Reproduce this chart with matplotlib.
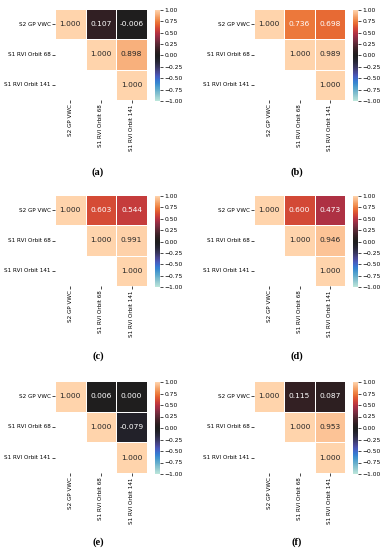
"""Correlation heatmaps of VWC vs. S1 RVI, six panels."""
import matplotlib
matplotlib.use("Agg")
import matplotlib.pyplot as plt
import numpy as np
import seaborn as sns

names = ["S2 GP VWC", "S1 RVI Orbit 68", "S1 RVI Orbit 141"]
panel_labels = ["(a)", "(b)", "(c)", "(d)", "(e)", "(f)"]

# upper-triangle correlations: (VWC-68, VWC-141, 68-141)
corr_a = [0.107, -0.006, 0.898]
corr_b = [0.736, 0.698, 0.989]
corr_c = [0.603, 0.544, 0.991]
corr_d = [0.600, 0.473, 0.946]
corr_e = [0.006, 0.000, -0.079]
corr_f = [0.115, 0.087, 0.953]
panels = [corr_a, corr_b, corr_c, corr_d, corr_e, corr_f]

W, H = 383, 550
fig = plt.figure(figsize=(W / 100, H / 100), dpi=100)


def px(l, t, r, b):
    return [l / W, 1 - b / H, (r - l) / W, (b - t) / H]


# heatmap boxes in pixels (left, top, right, bottom)
boxes = [(55, 9, 147, 100), (254, 9, 345, 100),
         (55, 195, 147, 286), (254, 195, 345, 286),
         (55, 381, 147, 473), (254, 381, 345, 473)]
label_y = [172, 172, 356, 356, 542, 542]

for i, (vals, box) in enumerate(zip(panels, boxes)):
    M = np.eye(3)
    M[0, 1], M[0, 2], M[1, 2] = vals
    mask = np.tril(np.ones_like(M, dtype=bool), k=-1)
    l, t, r, b = box
    ax = fig.add_axes(px(l, t, r, b))
    cax = fig.add_axes(px(r + 8, t + 1, r + 13, b + 1))
    sns.heatmap(M, mask=mask, cmap="icefire", vmin=-1, vmax=1, annot=True,
                fmt=".3f", linewidths=0.6, linecolor="white", ax=ax,
                cbar_ax=cax, annot_kws={"fontsize": 5.4},
                xticklabels=names, yticklabels=names)
    ax.tick_params(labelsize=4.1, length=2, width=0.5, pad=1)
    ax.set_xticklabels(names, rotation=90)
    ax.set_yticklabels(names, rotation=0)
    cax.set_yticks(np.arange(-1, 1.01, 0.25))
    cax.set_yticklabels([f"{v:.2f}".replace("-", "\u2212") for v in np.arange(-1, 1.01, 0.25)])
    cax.tick_params(labelsize=4.3, length=2, width=0.5, pad=1)
    cx = (l + r) / 2 - 3
    fig.text(cx / W, 1 - label_y[i] / H, panel_labels[i], ha="center", va="center",
             fontsize=7.5, family="Liberation Serif", fontweight="bold")

fig.savefig("out.png", dpi=100)
